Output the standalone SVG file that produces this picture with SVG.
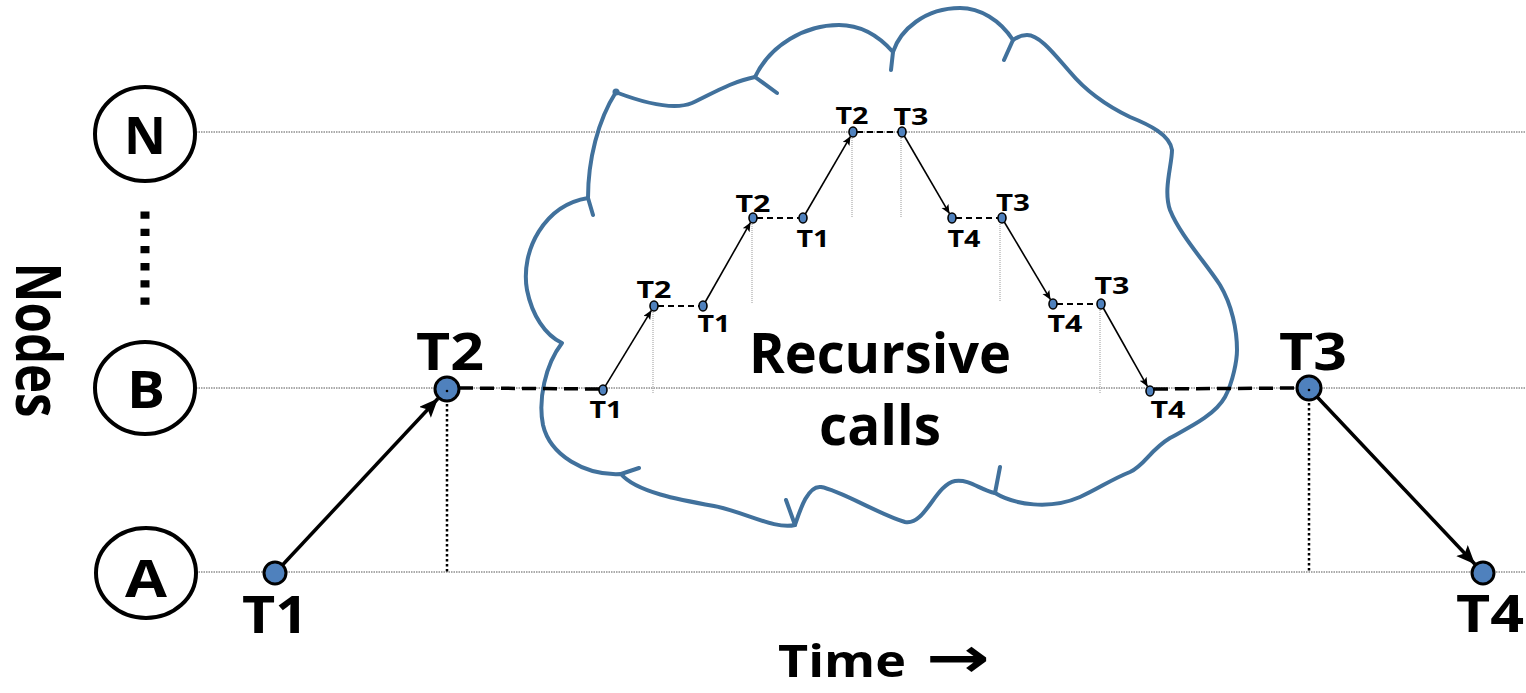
<svg xmlns="http://www.w3.org/2000/svg" width="1526" height="693" viewBox="0 0 1526 693">
  <style>
    .lbl { font-family: "Open Sans", "Liberation Sans", sans-serif; font-weight: bold; fill: #000; text-anchor: middle; }
    .lane { stroke: #555; stroke-width: 1; stroke-dasharray: 1.5 1; fill: none; }
    .nodering { fill: #fff; stroke: #000; stroke-width: 4; }
    .pt { fill: #4f81bd; stroke: #000; stroke-width: 3; }
    .spt { fill: #4f81bd; stroke: #000; stroke-width: 1.6; }
    .drop { stroke: #000; stroke-width: 2.5; stroke-dasharray: 2.5 2.5; fill: none; }
    .sdrop { stroke: #999; stroke-width: 1; stroke-dasharray: 1 1; fill: none; }
    .hop { stroke: #000; stroke-width: 3.5; fill: none; marker-end: url(#bigHead); }
    .shop { stroke: #000; stroke-width: 1.6; fill: none; marker-end: url(#smallHead); }
    .wait { stroke: #000; stroke-width: 3.5; stroke-dasharray: 14 7; fill: none; }
    .swait { stroke: #000; stroke-width: 2; stroke-dasharray: 6 4; fill: none; }
    .cloud { fill: none; stroke: #41719c; stroke-width: 4; stroke-linecap: round; stroke-linejoin: round; }
  </style>
  <defs>
    <marker id="bigHead" markerUnits="userSpaceOnUse" markerWidth="22" markerHeight="18" refX="19" refY="8" orient="auto">
      <path d="M0,0 L19,8 L0,16 L4,8 Z" fill="#000"/>
    </marker>
    <marker id="smallHead" markerUnits="userSpaceOnUse" markerWidth="12" markerHeight="10" refX="9" refY="4" orient="auto">
      <path d="M0,0 L9,4 L0,8 L2,4 Z" fill="#000"/>
    </marker>
  </defs>

  <rect width="1526" height="693" fill="#fff"/>

  <!-- time lanes for each node -->
  <g id="lanes">
    <line class="lane" x1="196" y1="132" x2="1526" y2="132"/>
    <line class="lane" x1="196" y1="388" x2="1526" y2="388"/>
    <line class="lane" x1="196" y1="572" x2="1526" y2="572"/>
  </g>

  <!-- axis labels -->
  <text class="lbl" transform="translate(16,340) rotate(90)" font-size="63" textLength="155" lengthAdjust="spacingAndGlyphs">Nodes</text>
  <text class="lbl" x="842" y="677" font-size="45" textLength="128" lengthAdjust="spacingAndGlyphs">Time</text>
  <text class="lbl" x="958" y="677" font-size="56" style="font-family:'DejaVu Sans',sans-serif" textLength="64" lengthAdjust="spacingAndGlyphs">→</text>

  <!-- node markers -->
  <g id="node-N">
    <ellipse class="nodering" cx="145" cy="134" rx="50" ry="47"/>
    <text class="lbl" x="145" y="154" font-size="52" textLength="42" lengthAdjust="spacingAndGlyphs">N</text>
  </g>
  <g id="node-more">
    <line x1="145" y1="211.5" x2="145" y2="306" stroke="#000" stroke-width="9" stroke-dasharray="7.3 9.9"/>
  </g>
  <g id="node-B">
    <ellipse class="nodering" cx="145" cy="388" rx="50" ry="46"/>
    <text class="lbl" x="146" y="408" font-size="52" textLength="38" lengthAdjust="spacingAndGlyphs">B</text>
  </g>
  <g id="node-A">
    <ellipse class="nodering" cx="146" cy="573" rx="50" ry="45"/>
    <text class="lbl" x="146" y="597" font-size="52" textLength="42" lengthAdjust="spacingAndGlyphs">A</text>
  </g>

  <!-- recursion cloud -->
  <g id="cloud">
    <path class="cloud" d="M616,92 C598,120 588,160 588,198
      C545,205 520,250 527,290 C532,315 545,335 562,343
      C545,365 538,400 543,425 C550,455 585,476 621,474
      C636,492 680,500 714,506 C745,512 775,530 795,525
      C800,510 808,485 821,487 C840,490 880,515 905,522 C925,526 935,485 955,481 C970,479 980,490 995,493
      C1015,505 1050,510 1080,497 C1100,488 1110,480 1130,472 C1145,465 1150,450 1170,438 C1190,427 1215,415 1225,397 C1233,382 1237,360 1237,350
      C1237,330 1232,305 1220,285 C1205,262 1180,235 1170,210 C1163,190 1172,165 1172,150 C1170,135 1150,125 1130,117 C1105,105 1085,90 1070,72 C1055,55 1040,35 1027,35 C1020,35 1016,38 1013,40
      C1000,20 980,8 960,8 C925,8 900,30 893,52
      C878,35 860,25 839,25 C805,25 770,45 755,77
      C730,82 710,95 692,103 C675,110 650,105 618,93"/>
    <path class="cloud" d="M588,198 L593,215 M621,474 L639,468 M795,525 L786,500 M995,493 L1000,467 M1013,40 L1004,60 M893,52 L891,70 M755,77 L777,93"/>
    <circle cx="616" cy="92" r="3.5" fill="#41719c"/>
    <text class="lbl" x="880" y="373" font-size="56" textLength="262" lengthAdjust="spacingAndGlyphs">Recursive</text>
    <text class="lbl" x="880" y="445" font-size="56" textLength="122" lengthAdjust="spacingAndGlyphs">calls</text>
  </g>

  <!-- connectors: hops, waits and time drops -->
  <g id="connectors">
    <line class="drop" x1="447" y1="389" x2="447" y2="572"/>
    <line class="drop" x1="1309" y1="388" x2="1309" y2="572"/>
    <line class="sdrop" x1="653" y1="306" x2="653" y2="393"/>
    <line class="sdrop" x1="752" y1="218" x2="752" y2="304"/>
    <line class="sdrop" x1="852" y1="132" x2="852" y2="218"/>
    <line class="sdrop" x1="901" y1="132" x2="901" y2="217"/>
    <line class="sdrop" x1="1000" y1="218" x2="1000" y2="302"/>
    <line class="sdrop" x1="1100" y1="304" x2="1100" y2="393"/>

    <line class="hop" x1="282.5" y1="565" x2="438" y2="398.5"/>
    <line class="hop" x1="1317" y1="396.7" x2="1475" y2="564.3"/>
    <line class="wait" x1="459" y1="388" x2="600" y2="389"/>
    <line class="wait" x1="1154" y1="389" x2="1297" y2="388"/>

    <line class="shop" x1="605" y1="386.6" x2="651.4" y2="310.3"/>
    <line class="shop" x1="705" y1="302.5" x2="750.5" y2="222.4"/>
    <line class="shop" x1="805" y1="214.5" x2="850.5" y2="136.3"/>
    <line class="shop" x1="904" y1="135.5" x2="949.5" y2="213.7"/>
    <line class="shop" x1="1004" y1="221.5" x2="1050.5" y2="299.7"/>
    <line class="shop" x1="1103" y1="307.5" x2="1147.5" y2="386.6"/>

    <line class="swait" x1="658" y1="306" x2="699" y2="306"/>
    <line class="swait" x1="757" y1="218" x2="799" y2="218"/>
    <line class="swait" x1="857" y1="132" x2="898" y2="132"/>
    <line class="swait" x1="956" y1="218" x2="998" y2="218"/>
    <line class="swait" x1="1057" y1="304" x2="1097" y2="304"/>
  </g>

  <!-- main timeline points -->
  <g id="point-T1">
    <circle class="pt" cx="275" cy="573" r="11"/>
    <text class="lbl" x="275" y="633" font-size="52" textLength="66" lengthAdjust="spacingAndGlyphs">T1</text>
  </g>
  <g id="point-T2">
    <circle class="pt" cx="447" cy="389" r="12"/>
    <circle cx="447" cy="391" r="1.3" fill="#000"/>
    <text class="lbl" x="450" y="370" font-size="52" textLength="68" lengthAdjust="spacingAndGlyphs">T2</text>
  </g>
  <g id="point-T3">
    <circle class="pt" cx="1309" cy="388" r="12"/>
    <circle cx="1309" cy="390" r="1.3" fill="#000"/>
    <text class="lbl" x="1313" y="370" font-size="52" textLength="68" lengthAdjust="spacingAndGlyphs">T3</text>
  </g>
  <g id="point-T4">
    <circle class="pt" cx="1483" cy="573" r="11"/>
    <text class="lbl" x="1490" y="632" font-size="52" textLength="68" lengthAdjust="spacingAndGlyphs">T4</text>
  </g>

  <!-- nested call points -->
  <g id="call-b-T1"><ellipse class="spt" cx="603" cy="390" rx="4" ry="5"/><text class="lbl" x="606" y="418" font-size="23" textLength="33" lengthAdjust="spacingAndGlyphs">T1</text></g>
  <g id="call-1-T2"><ellipse class="spt" cx="654" cy="306" rx="4" ry="5"/><text class="lbl" x="654" y="298" font-size="23" textLength="35" lengthAdjust="spacingAndGlyphs">T2</text></g>
  <g id="call-1-T1"><ellipse class="spt" cx="703" cy="306" rx="4" ry="5"/><text class="lbl" x="714" y="332" font-size="23" textLength="33" lengthAdjust="spacingAndGlyphs">T1</text></g>
  <g id="call-2-T2"><ellipse class="spt" cx="753" cy="218" rx="4" ry="5"/><text class="lbl" x="753" y="212" font-size="23" textLength="35" lengthAdjust="spacingAndGlyphs">T2</text></g>
  <g id="call-2-T1"><ellipse class="spt" cx="803" cy="218" rx="4" ry="5"/><text class="lbl" x="813" y="247" font-size="23" textLength="33" lengthAdjust="spacingAndGlyphs">T1</text></g>
  <g id="call-3-T2"><ellipse class="spt" cx="853" cy="132" rx="4" ry="5"/><text class="lbl" x="852" y="124" font-size="23" textLength="33" lengthAdjust="spacingAndGlyphs">T2</text></g>
  <g id="call-3-T3"><ellipse class="spt" cx="902" cy="132" rx="4" ry="5"/><text class="lbl" x="911" y="125" font-size="23" textLength="35" lengthAdjust="spacingAndGlyphs">T3</text></g>
  <g id="call-2-T4"><ellipse class="spt" cx="952" cy="218" rx="4" ry="5"/><text class="lbl" x="964" y="247" font-size="23" textLength="33" lengthAdjust="spacingAndGlyphs">T4</text></g>
  <g id="call-2-T3"><ellipse class="spt" cx="1002" cy="218" rx="4" ry="5"/><text class="lbl" x="1013" y="211" font-size="23" textLength="34" lengthAdjust="spacingAndGlyphs">T3</text></g>
  <g id="call-1-T4"><ellipse class="spt" cx="1053" cy="304" rx="4" ry="5"/><text class="lbl" x="1065" y="332" font-size="23" textLength="35" lengthAdjust="spacingAndGlyphs">T4</text></g>
  <g id="call-1-T3"><ellipse class="spt" cx="1101" cy="304" rx="4" ry="5"/><text class="lbl" x="1112" y="294" font-size="23" textLength="35" lengthAdjust="spacingAndGlyphs">T3</text></g>
  <g id="call-b-T4"><ellipse class="spt" cx="1150" cy="391" rx="4" ry="5"/><text class="lbl" x="1168" y="418" font-size="23" textLength="35" lengthAdjust="spacingAndGlyphs">T4</text></g>
</svg>
